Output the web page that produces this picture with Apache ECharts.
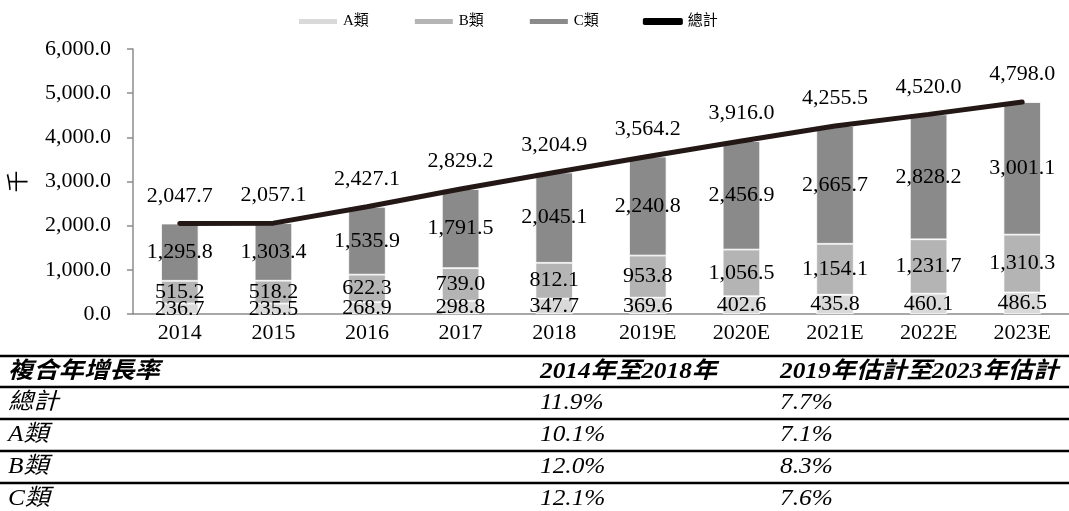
<!DOCTYPE html>
<html>
<head>
<meta charset="utf-8">
<script src="https://cdn.jsdelivr.net/npm/echarts@6/dist/echarts.min.js"></script>
<style>
    html, body { margin: 0; padding: 0; background: #fff; }
    #figure { width: 1069px; height: 511px; }
</style>
</head>
<body>
<div id="figure"></div>
<script>
    const years = ['2014', '2015', '2016', '2017', '2018', '2019E', '2020E', '2021E', '2022E', '2023E'];
    const classA = [236.7, 235.5, 268.9, 298.8, 347.7, 369.6, 402.6, 435.8, 460.1, 486.5];
    const classB = [515.2, 518.2, 622.3, 739.0, 812.1, 953.8, 1056.5, 1154.1, 1231.7, 1310.3];
    const classC = [1295.8, 1303.4, 1535.9, 1791.5, 2045.1, 2240.8, 2456.9, 2665.7, 2828.2, 3001.1];
    const total = [2047.7, 2057.1, 2427.1, 2829.2, 3204.9, 3564.2, 3916.0, 4255.5, 4520.0, 4798.0];

    const cagrHeader = ['複合年增長率', '2014年至2018年', '2019年估計至2023年估計'];
    const cagrNames = ['總計', 'A類', 'B類', 'C類'];
    const cagrHist = ['11.9%', '10.1%', '12.0%', '12.1%'];
    const cagrFcst = ['7.7%', '7.1%', '8.3%', '7.6%'];

    const serif = "'Liberation Serif', 'Times New Roman', 'Noto Sans CJK TC', serif";
    const fmt = v => Number(v).toLocaleString('en-US', {minimumFractionDigits: 1, maximumFractionDigits: 1});

    const barLabel = {
        show: true,
        position: 'inside',
        color: '#000',
        fontSize: 22,
        fontFamily: serif,
        formatter: p => fmt(p.value)
    };

    function barSeries(name, data, color) {
        return {
            name: name,
            type: 'bar',
            stack: 'total',
            barWidth: '40%',
            data: data,
            itemStyle: {color: color, borderColor: '#fff', borderWidth: 0.8},
            label: barLabel
        };
    }

    // 表格：複合年增長率
    const colX = [8, 540, 780];
    const rowY = [372, 403, 435, 467, 499];
    const lineY = [356, 387, 419, 451, 483];
    const table = [];
    lineY.forEach(y => {
        table.push({
            type: 'line',
            shape: {x1: 0, y1: y, x2: 1069, y2: y},
            style: {stroke: '#000', lineWidth: 2.5}
        });
    });
    cagrHeader.forEach((t, i) => {
        table.push({
            type: 'text',
            x: colX[i], y: rowY[0], scaleX: 1.1,
            style: {text: t, fill: '#000', font: 'italic bold 23px ' + serif, textVerticalAlign: 'middle'}
        });
    });
    cagrNames.forEach((t, r) => {
        [t, cagrHist[r], cagrFcst[r]].forEach((s, i) => {
            table.push({
                type: 'text',
                x: colX[i], y: rowY[r + 1], scaleX: 1.1,
                style: {text: s, fill: '#000', font: 'italic 23px ' + serif, textVerticalAlign: 'middle'}
            });
        });
    });

    const figure = echarts.init(document.getElementById('figure'));
    figure.setOption({
        animation: false,
        textStyle: {fontFamily: serif},
        legend: {
            top: 9,
            left: 292,
            itemWidth: 40,
            itemHeight: 7,
            itemGap: 44,
            textStyle: {fontSize: 15, color: '#000', fontFamily: serif},
            data: [
                {name: 'A類', icon: 'rect'},
                {name: 'B類', icon: 'rect'},
                {name: 'C類', icon: 'rect'},
                {name: '總計', icon: 'roundRect', itemStyle: {color: '#000'}}
            ]
        },
        grid: {left: 133, right: 0, top: 49, height: 265},
        xAxis: {
            type: 'category',
            data: years,
            axisTick: {show: false},
            axisLine: {lineStyle: {color: '#8c8c8c', width: 1.5}},
            axisLabel: {color: '#000', fontSize: 22, fontFamily: serif, margin: 8}
        },
        yAxis: {
            type: 'value',
            min: 0,
            max: 6000,
            interval: 1000,
            name: '千',
            nameLocation: 'middle',
            nameGap: 103,
            nameTextStyle: {color: '#000', fontSize: 22, fontFamily: serif},
            axisLine: {show: true, lineStyle: {color: '#8c8c8c', width: 1.5}},
            axisTick: {show: true, length: 6, lineStyle: {color: '#8c8c8c', width: 1.5}},
            splitLine: {show: false},
            axisLabel: {color: '#000', fontSize: 22, fontFamily: serif, margin: 22, formatter: fmt}
        },
        series: [
            barSeries('A類', classA, '#d9d9d9'),
            barSeries('B類', classB, '#b4b4b4'),
            barSeries('C類', classC, '#8a8a8a'),
            {
                name: '總計',
                type: 'line',
                data: total,
                symbol: 'circle',
                symbolSize: 1,
                showSymbol: true,
                z: 5,
                lineStyle: {color: '#231815', width: 5, cap: 'round'},
                itemStyle: {color: '#231815'},
                label: {
                    show: true,
                    position: 'top',
                    distance: 16,
                    color: '#000',
                    fontSize: 22,
                    fontFamily: serif,
                    formatter: p => fmt(p.value)
                }
            }
        ],
        graphic: table
    });
</script>
</body>
</html>
